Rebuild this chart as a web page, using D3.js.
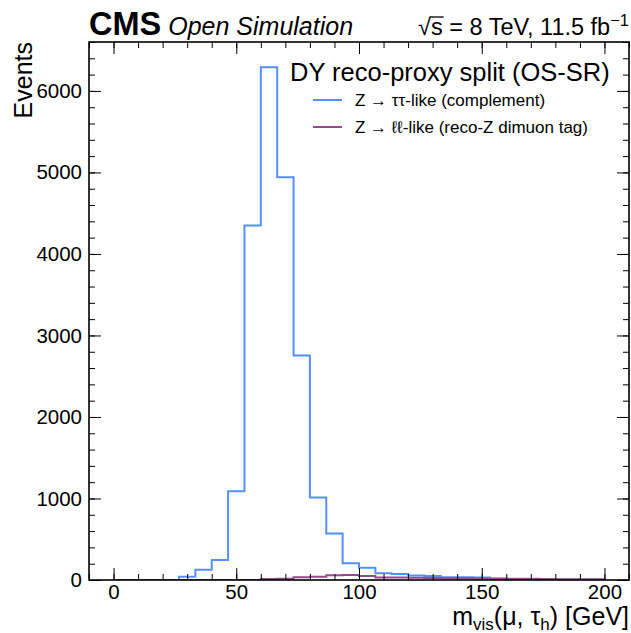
<!DOCTYPE html>
<html>
<head>
<meta charset="utf-8">
<script src="https://cdn.jsdelivr.net/npm/d3@7"></script>
<style>
  html, body { margin: 0; padding: 0; background: #fff; }
  svg { display: block; font-family: "Liberation Sans", Arial, sans-serif; }
</style>
</head>
<body>
<svg id="chart" width="631" height="633"></svg>
<script>
// Histogram binning: 30 bins over 0–200 GeV
const binLow = 0;
const binHigh = 200;
const nBins = 30;

// Z -> tautau-like (complement), events per bin
const tautauCounts = [0, 0, 0, 0, 40, 125, 245, 1090, 4350, 6290,
  4940, 2755, 1012, 570, 205, 150, 82, 75, 55, 50,
  35, 35, 32, 18, 16, 15, 6, 4, 3, 2];

// Z -> ll-like (reco-Z dimuon tag), events per bin
const llCounts = [0, 0, 0, 0, 0, 0, 0, 0, 0, 12,
  14, 35, 40, 58, 60, 50, 30, 30, 28, 26,
  22, 20, 18, 15, 13, 12, 11, 10, 9, 8];

const seriesNames = ["Z \u2192 \u03c4\u03c4-like (complement)", "Z \u2192 \u2113\u2113-like (reco-Z dimuon tag)"];
const seriesColors = ["#5790fc", "#964a8b"];

const xTicks = [0, 50, 100, 150, 200];
const yTicks = [0, 1000, 2000, 3000, 4000, 5000, 6000];

const svg = d3.select("#chart");
const m = { left: 89, right: 629, top: 42, bottom: 580 };

const x = d3.scaleLinear().domain([-10, 210]).range([m.left, m.right]);
const y = d3.scaleLinear().domain([0, 6600]).range([m.bottom, m.top]);

const edges = d3.range(nBins + 1).map(i => binLow + (binHigh - binLow) * i / nBins);

function stepPath(counts) {
  const pts = [[edges[0], 0]];
  counts.forEach((c, i) => { pts.push([edges[i], c]); pts.push([edges[i + 1], c]); });
  pts.push([edges[nBins], 0]);
  return d3.line().x(d => x(d[0])).y(d => y(d[1]))(pts);
}

const plot = svg.append("g");
plot.append("defs").append("clipPath").attr("id", "clip")
  .append("rect").attr("x", m.left).attr("y", m.top)
  .attr("width", m.right - m.left).attr("height", m.bottom - m.top);

[tautauCounts, llCounts].forEach((counts, k) => {
  plot.append("path")
    .attr("d", stepPath(counts))
    .attr("clip-path", "url(#clip)")
    .attr("fill", "none")
    .attr("stroke", seriesColors[k])
    .attr("stroke-width", 2);
});

// Axes with inward ticks on all four sides
const tickSize = 12, minorSize = 6;
function addAxis(axisGen, transform, labels) {
  const g = svg.append("g").attr("transform", transform).call(axisGen);
  g.select(".domain").remove();
  g.selectAll("line").attr("stroke", "#000").attr("stroke-width", 1);
  if (!labels) g.selectAll("text").remove();
  return g;
}
const xMinor = d3.range(-10, 211, 10);
const yMinor = d3.range(0, 6601, 200);

// bottom
addAxis(d3.axisBottom(x).tickValues(xMinor).tickSize(-minorSize).tickFormat(""), `translate(0,${m.bottom})`, false);
const gx = addAxis(d3.axisBottom(x).tickValues(xTicks).tickSize(-tickSize).tickPadding(4).tickFormat(d3.format("d")), `translate(0,${m.bottom})`, true);
gx.selectAll("text").attr("font-size", 20.5).attr("fill", "#000");
// top
addAxis(d3.axisTop(x).tickValues(xMinor).tickSize(-minorSize), `translate(0,${m.top})`, false);
addAxis(d3.axisTop(x).tickValues(xTicks).tickSize(-tickSize), `translate(0,${m.top})`, false);
// left
addAxis(d3.axisLeft(y).tickValues(yMinor).tickSize(-minorSize), `translate(${m.left},0)`, false);
const gy = addAxis(d3.axisLeft(y).tickValues(yTicks).tickSize(-tickSize).tickPadding(7).tickFormat(d3.format("d")), `translate(${m.left},0)`, true);
gy.selectAll("text").attr("font-size", 20.5).attr("fill", "#000");
// right
addAxis(d3.axisRight(y).tickValues(yMinor).tickSize(-minorSize), `translate(${m.right},0)`, false);
addAxis(d3.axisRight(y).tickValues(yTicks).tickSize(-tickSize), `translate(${m.right},0)`, false);

// frame
svg.append("rect").attr("x", m.left).attr("y", m.top)
  .attr("width", m.right - m.left).attr("height", m.bottom - m.top)
  .attr("fill", "none").attr("stroke", "#000").attr("stroke-width", 1.6);

// Axis titles
const xl = svg.append("text").attr("x", m.right).attr("y", 625)
  .attr("text-anchor", "end").attr("font-size", 25).attr("fill", "#000");
xl.append("tspan").text("m");
xl.append("tspan").attr("font-size", 17).attr("dy", 5).text("vis");
xl.append("tspan").attr("dy", -5).text("(\u03bc, \u03c4");
xl.append("tspan").attr("font-size", 17).attr("dy", 5).text("h");
xl.append("tspan").attr("dy", -5).text(") [GeV]");

svg.append("text")
  .attr("transform", `translate(32,${m.top}) rotate(-90)`)
  .attr("text-anchor", "end").attr("font-size", 25).attr("fill", "#000")
  .text("Events");

// Experiment label
const cms = svg.append("text").attr("x", m.left).attr("y", 35).attr("fill", "#000");
cms.append("tspan").attr("font-size", 32.5).attr("font-weight", "bold").text("CMS");
cms.append("tspan").attr("font-size", 25).attr("font-style", "italic").attr("dx", 7).text("Open Simulation");

// Energy and luminosity label
const lumi = svg.append("text").attr("x", m.right).attr("y", 35)
  .attr("text-anchor", "end").attr("font-size", 23.5).attr("fill", "#000");
lumi.append("tspan").text("\u221a");
lumi.append("tspan").text("s");
lumi.append("tspan").text(" = 8 TeV, 11.5 fb");
lumi.append("tspan").attr("font-size", 16.5).attr("dy", -9).text("\u22121");
// overline over the "s" under the square root
const sBox = lumi.node().getExtentOfChar(1);
svg.append("line")
  .attr("x1", sBox.x - 1).attr("x2", sBox.x + sBox.width + 1)
  .attr("y1", sBox.y + 3).attr("y2", sBox.y + 3)
  .attr("stroke", "#000").attr("stroke-width", 1.3);

// Legend
svg.append("text").attr("x", 290).attr("y", 81)
  .attr("font-size", 25.5).attr("fill", "#000")
  .text("DY reco-proxy split (OS-SR)");
seriesNames.forEach((name, i) => {
  const ly = 100 + i * 27;
  svg.append("line").attr("x1", 313).attr("x2", 342).attr("y1", ly).attr("y2", ly)
    .attr("stroke", seriesColors[i]).attr("stroke-width", 2);
  svg.append("text").attr("x", 355).attr("y", ly + 6)
    .attr("font-size", 17).attr("fill", "#000").text(name);
});
</script>
</body>
</html>
